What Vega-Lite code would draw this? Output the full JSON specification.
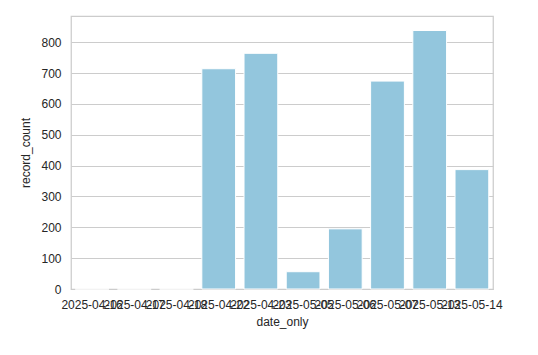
{
  "$schema": "https://vega.github.io/schema/vega-lite/v6.json",
  "autosize": "none",
  "width": 422,
  "height": 273,
  "padding": {"left": 71, "top": 16, "right": 45, "bottom": 66},
  "background": "#ffffff",
  "data": {
    "values": [
      {"date_only": "2025-04-16", "record_count": 0},
      {"date_only": "2025-04-17", "record_count": 0},
      {"date_only": "2025-04-18", "record_count": 0},
      {"date_only": "2025-04-22", "record_count": 714},
      {"date_only": "2025-04-23", "record_count": 764},
      {"date_only": "2025-05-05", "record_count": 56},
      {"date_only": "2025-05-06", "record_count": 195},
      {"date_only": "2025-05-07", "record_count": 674},
      {"date_only": "2025-05-13", "record_count": 838},
      {"date_only": "2025-05-14", "record_count": 387}
    ]
  },
  "mark": {"type": "bar", "color": "#93c6dd", "stroke": "#ffffff", "strokeWidth": 1},
  "encoding": {
    "x": {
      "field": "date_only",
      "type": "nominal",
      "sort": null,
      "scale": {"paddingInner": 0.2, "paddingOuter": 0.1},
      "axis": {
        "labelAngle": 0,
        "labelOverlap": false,
        "labelBound": false,
        "labelFlush": false,
        "labelLimit": 0,
        "ticks": false,
        "domain": false,
        "grid": false,
        "labelPadding": 10,
        "titlePadding": 6
      }
    },
    "y": {
      "field": "record_count",
      "type": "quantitative",
      "scale": {"domain": [0, 885], "nice": false},
      "axis": {
        "values": [0, 100, 200, 300, 400, 500, 600, 700, 800],
        "ticks": false,
        "domain": false,
        "grid": true,
        "labelPadding": 10,
        "titlePadding": 8
      }
    }
  },
  "config": {
    "font": "Liberation Sans",
    "view": {"stroke": "#cccccc", "strokeWidth": 1.25},
    "axis": {
      "labelFont": "Liberation Sans",
      "titleFont": "Liberation Sans",
      "labelFontSize": 12,
      "titleFontSize": 12,
      "titleFontWeight": "normal",
      "labelColor": "#262626",
      "titleColor": "#262626",
      "gridColor": "#cccccc",
      "gridWidth": 1
    }
  }
}
